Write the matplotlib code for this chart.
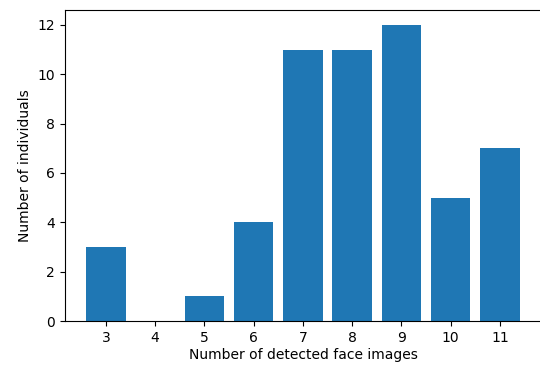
import numpy as np
import matplotlib
matplotlib.use('Agg')
import matplotlib.pyplot as plt

images = [3, 4, 5, 6, 7, 8, 9, 10, 11]
counts = [3, 0, 1, 4, 11, 11, 12, 5, 7]

plt.rcParams['font.size'] = 10
fig = plt.figure(figsize=(5.4, 3.65), dpi=100)
ax = fig.add_axes([0.1195, 0.1205, 0.883, 0.852])
ax.bar(images, counts, color='#1f77b4')
ax.set_xticks(images)
ax.set_xlim(2.16, 11.84)
# the original screenshot cuts off the right edge of the axes
ax.spines['right'].set_visible(False)
ax.set_xlabel('Number of detected face images', labelpad=2)
ax.set_ylabel('Number of individuals')
fig.savefig('out.png', dpi=100)
